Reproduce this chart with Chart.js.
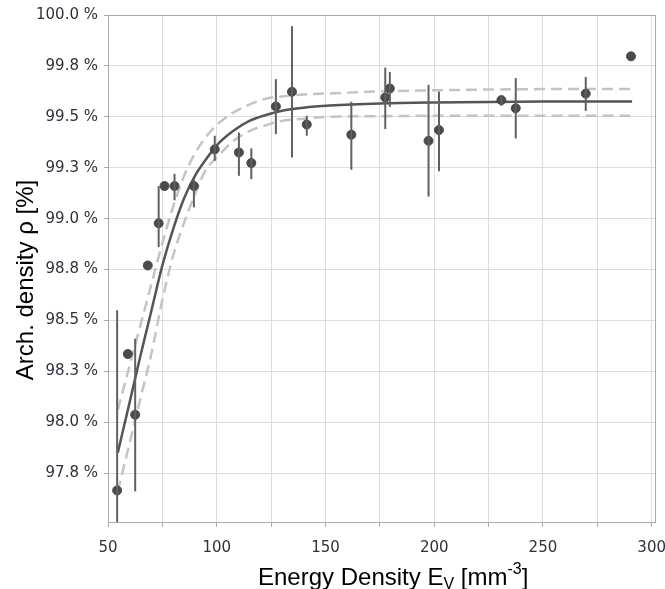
<!DOCTYPE html>
<html>
<head>
<meta charset="utf-8">
<script src="https://cdn.jsdelivr.net/npm/chart.js@4.4.0/dist/chart.umd.min.js"></script>
<style>
body { margin: 0; background: #fff; }
#wrap { width: 665px; height: 589px; }
</style>
</head>
<body>
<div id="wrap"><canvas id="chart"></canvas></div>
<script>
// measured samples
const energy  = [54.2, 59.1, 62.5, 68.3, 73.3, 76.0, 80.6, 89.5, 99.1, 110.2, 115.9, 127.2, 134.6, 141.4, 161.9, 177.5, 179.6, 197.4, 202.2, 230.9, 237.5, 269.7, 290.5];
const density = [97.665, 98.335, 98.037, 98.77, 98.977, 99.16, 99.16, 99.16, 99.34, 99.325, 99.273, 99.551, 99.623, 99.462, 99.412, 99.595, 99.639, 99.382, 99.435, 99.582, 99.542, 99.614, 99.797];
const errLow  = [97.40, null, 97.66, null, 98.86, null, 99.09, 99.055, 99.284, 99.21, 99.194, 99.415, 99.30, 99.407, 99.24, 99.44, 99.549, 99.108, 99.232, 99.554, 99.394, 99.529, null];
const errHigh = [98.55, null, 98.41, null, 99.16, null, 99.22, 99.20, 99.407, 99.423, 99.345, 99.685, 99.945, 99.505, 99.574, 99.742, 99.72, 99.657, 99.624, 99.598, 99.69, 99.696, null];

// fit curve and confidence band
const fitX   = [54.5, 60, 65, 70, 75, 80, 85, 90, 95, 100, 107.5, 115, 123, 130, 140, 152, 175, 200, 250, 291];
const fitY   = [97.85, 98.10, 98.33, 98.55, 98.77, 98.95, 99.10, 99.21, 99.29, 99.36, 99.43, 99.48, 99.51, 99.53, 99.545, 99.555, 99.565, 99.57, 99.575, 99.575];
const upperY = [98.06, 98.28, 98.48, 98.68, 98.88, 99.06, 99.21, 99.32, 99.40, 99.46, 99.52, 99.56, 99.59, 99.60, 99.61, 99.615, 99.625, 99.63, 99.636, 99.636];
const lowerY = [97.66, 97.90, 98.12, 98.34, 98.60, 98.82, 98.98, 99.12, 99.24, 99.30, 99.38, 99.43, 99.46, 99.48, 99.49, 99.50, 99.503, 99.505, 99.505, 99.505];

const xTicks = [50, 75, 100, 125, 150, 175, 200, 225, 250, 275, 300];
const yTicks = [97.75, 98, 98.25, 98.5, 98.75, 99, 99.25, 99.5, 99.75, 100];

const pts = (xs, ys) => xs.map((x, i) => ({x: x, y: ys[i]}));

const titleFont = "'Liberation Sans', Arial, sans-serif";

//error bars + frame + axis titles (x title has sub/superscript)
const extras = {
    id: "extras",
    beforeDatasetsDraw(chart) {
        const {ctx, chartArea: a} = chart;
        ctx.save();
        ctx.strokeStyle = "#aaaaaa";
        ctx.lineWidth = 1;
        ctx.strokeRect(a.left + 0.5, a.top + 0.5, a.right - a.left - 1, a.bottom - a.top);
        ctx.restore();
    },
    afterDatasetsDraw(chart) {
        const {ctx, chartArea: a, scales} = chart;
        ctx.save();
        ctx.beginPath();
        ctx.rect(a.left, a.top, a.right - a.left, a.bottom - a.top);
        ctx.clip();
        ctx.strokeStyle = "#606060";
        ctx.lineWidth = 2;
        for (let i = 0; i < energy.length; i++) {
            if (errLow[i] === null) continue;
            const x = scales.x.getPixelForValue(energy[i]);
            ctx.beginPath();
            ctx.moveTo(x, scales.y.getPixelForValue(errLow[i]));
            ctx.lineTo(x, scales.y.getPixelForValue(errHigh[i]));
            ctx.stroke();
        }
        ctx.restore();
    },
    afterDraw(chart) {
        const {ctx} = chart;
        const big = "24px " + titleFont;
        const small = "16px " + titleFont;
        const parts = [
            {t: "Energy Density E", f: big, dy: 0},
            {t: "V", f: small, dy: 4},
            {t: " [mm", f: big, dy: 0},
            {t: "-3", f: small, dy: -11},
            {t: "]", f: big, dy: 0}
        ];
        ctx.save();
        ctx.fillStyle = "#000";
        ctx.textBaseline = "alphabetic";
        let x = 258;
        const base = 585;
        for (const p of parts) {
            ctx.font = p.f;
            ctx.fillText(p.t, x, base + p.dy);
            x += ctx.measureText(p.t).width;
        }
        // y title
        ctx.translate(26, 280);
        ctx.rotate(-Math.PI / 2);
        ctx.font = big;
        ctx.textAlign = "center";
        ctx.textBaseline = "middle";
        ctx.fillText("Arch. density ρ [%]", 0, 0);
        ctx.restore();
    }
};

const tickFont = {family: "'DejaVu Sans', Tahoma, sans-serif", size: 15};

new Chart(document.getElementById("chart"), {
    type: "scatter",
    plugins: [extras],
    data: {
        datasets: [
            {
                data: pts(energy, density),
                backgroundColor: "#4a4a4a",
                borderColor: "#4a4a4a",
                pointRadius: 4.5,
                showLine: false
            },
            {
                data: pts(fitX, fitY),
                showLine: true,
                borderColor: "#555555",
                borderWidth: 2.5,
                pointRadius: 0,
                cubicInterpolationMode: "monotone"
            },
            {
                data: pts(fitX, upperY),
                showLine: true,
                borderColor: "#c4c4c4",
                borderWidth: 2.5,
                borderDash: [11, 6],
                pointRadius: 0,
                cubicInterpolationMode: "monotone"
            },
            {
                data: pts(fitX, lowerY),
                showLine: true,
                borderColor: "#c4c4c4",
                borderWidth: 2.5,
                borderDash: [11, 6],
                pointRadius: 0,
                cubicInterpolationMode: "monotone"
            }
        ]
    },
    options: {
        responsive: true,
        maintainAspectRatio: false,
        animation: false,
        layout: { padding: {top: 15, right: 9, left: 0, bottom: 0} },
        plugins: {
            legend: { display: false },
            tooltip: { enabled: false }
        },
        scales: {
            x: {
                type: "linear",
                min: 50,
                max: 302,
                afterBuildTicks: (s) => { s.ticks = xTicks.map(v => ({value: v})); },
                afterFit: (s) => { s.height = 67; s.paddingLeft = 0; s.paddingRight = 0; },
                grid: { color: "#dddddd", tickColor: "#aaaaaa", tickLength: 5 },
                border: { display: false },
                ticks: {
                    autoSkip: false,
                    maxRotation: 0,
                    padding: 12,
                    color: "#30303c",
                    font: tickFont,
                    callback: (v) => (v % 50 === 0 ? v : "")
                }
            },
            y: {
                min: 97.51,
                max: 100,
                afterBuildTicks: (s) => { s.ticks = yTicks.map(v => ({value: v})); },
                afterFit: (s) => { s.width = 108; s.paddingTop = 0; s.paddingBottom = 0; },
                grid: { color: "#dddddd", tickColor: "#aaaaaa", tickLength: 4 },
                border: { display: false },
                ticks: {
                    padding: 6,
                    color: "#30303c",
                    font: tickFont,
                    callback: (v) => v.toFixed(1) + " %"
                }
            }
        }
    }
});
</script>
</body>
</html>
